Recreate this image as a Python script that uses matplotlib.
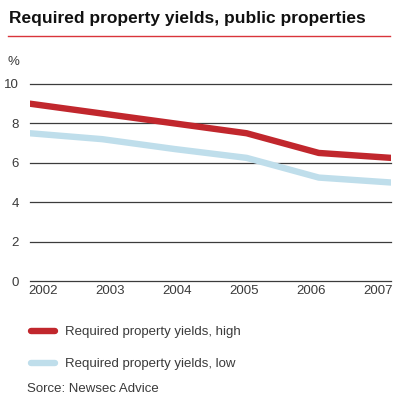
import matplotlib
matplotlib.use("Agg")
import matplotlib.pyplot as plt
from matplotlib.lines import Line2D

plt.rcParams["font.family"] = ["Liberation Sans", "DejaVu Sans"]

years = ["2002", "2003", "2004", "2005", "2006", "2007"]
high = [9.0, 8.5, 8.0, 7.5, 6.5, 6.25]
low = [7.5, 7.2, 6.7, 6.25, 5.25, 5.0]
yticks = [0, 2, 4, 6, 8, 10]
labels = ["Required property yields, high", "Required property yields, low"]
RED = "#c1272d"
BLUE = "#bfdeeb"
TXT = "#3a3a3a"

W = H = 394
fig = plt.figure(figsize=(W / 100, H / 100), dpi=100)
ax = fig.add_axes([30 / W, 113 / H, 361 / W, 197 / H])

x = list(range(len(years)))
ax.plot(x, high, color=RED, lw=4.6, solid_capstyle="round", solid_joinstyle="round", zorder=3)
ax.plot(x, low, color=BLUE, lw=4.6, solid_capstyle="round", solid_joinstyle="round", zorder=2)

ax.set_xlim(0, len(years) - 1)
ax.set_ylim(0, 10)
ax.set_yticks(yticks)
for v in yticks:
    ax.axhline(v, color="#3c3c3c", lw=0.9, zorder=1, clip_on=False)
# year labels sit slightly inset from the data points
ax.set_xticks([0.18 + i * 0.928 for i in x])
ax.set_xticklabels(years)
ax.tick_params(length=0, labelsize=9.5, labelcolor=TXT)
ax.tick_params(axis="y", pad=8)
ax.tick_params(axis="x", pad=3)
for s in ax.spines.values():
    s.set_visible(False)
ax.set_facecolor("none")

fig.text(9 / W, 1 - 18 / H, "Required property yields, public properties",
         fontsize=12.5, fontweight="bold", color="#111111", va="center", ha="left")
fig.add_artist(Line2D([8 / W, 390 / W], [1 - 36 / H, 1 - 36 / H], color="#d9343b", lw=1.0))
fig.text(8 / W, 1 - 62 / H, "%", fontsize=9.5, color=TXT, va="center", ha="left")

handles = [Line2D([], [], color=RED, lw=4.6, solid_capstyle="round"),
           Line2D([], [], color=BLUE, lw=4.6, solid_capstyle="round")]
fig.legend(handles, labels, loc="upper left", bbox_to_anchor=(31 / W, 1 - 326 / H),
           frameon=False, fontsize=9.5, handlelength=1.8, handletextpad=0.75,
           labelspacing=1.5, labelcolor=TXT, borderpad=0, borderaxespad=0)
fig.text(27 / W, 1 - 389 / H, "Sorce: Newsec Advice", fontsize=9.5, color=TXT,
         va="center", ha="left")

fig.savefig("out.png", dpi=100)
